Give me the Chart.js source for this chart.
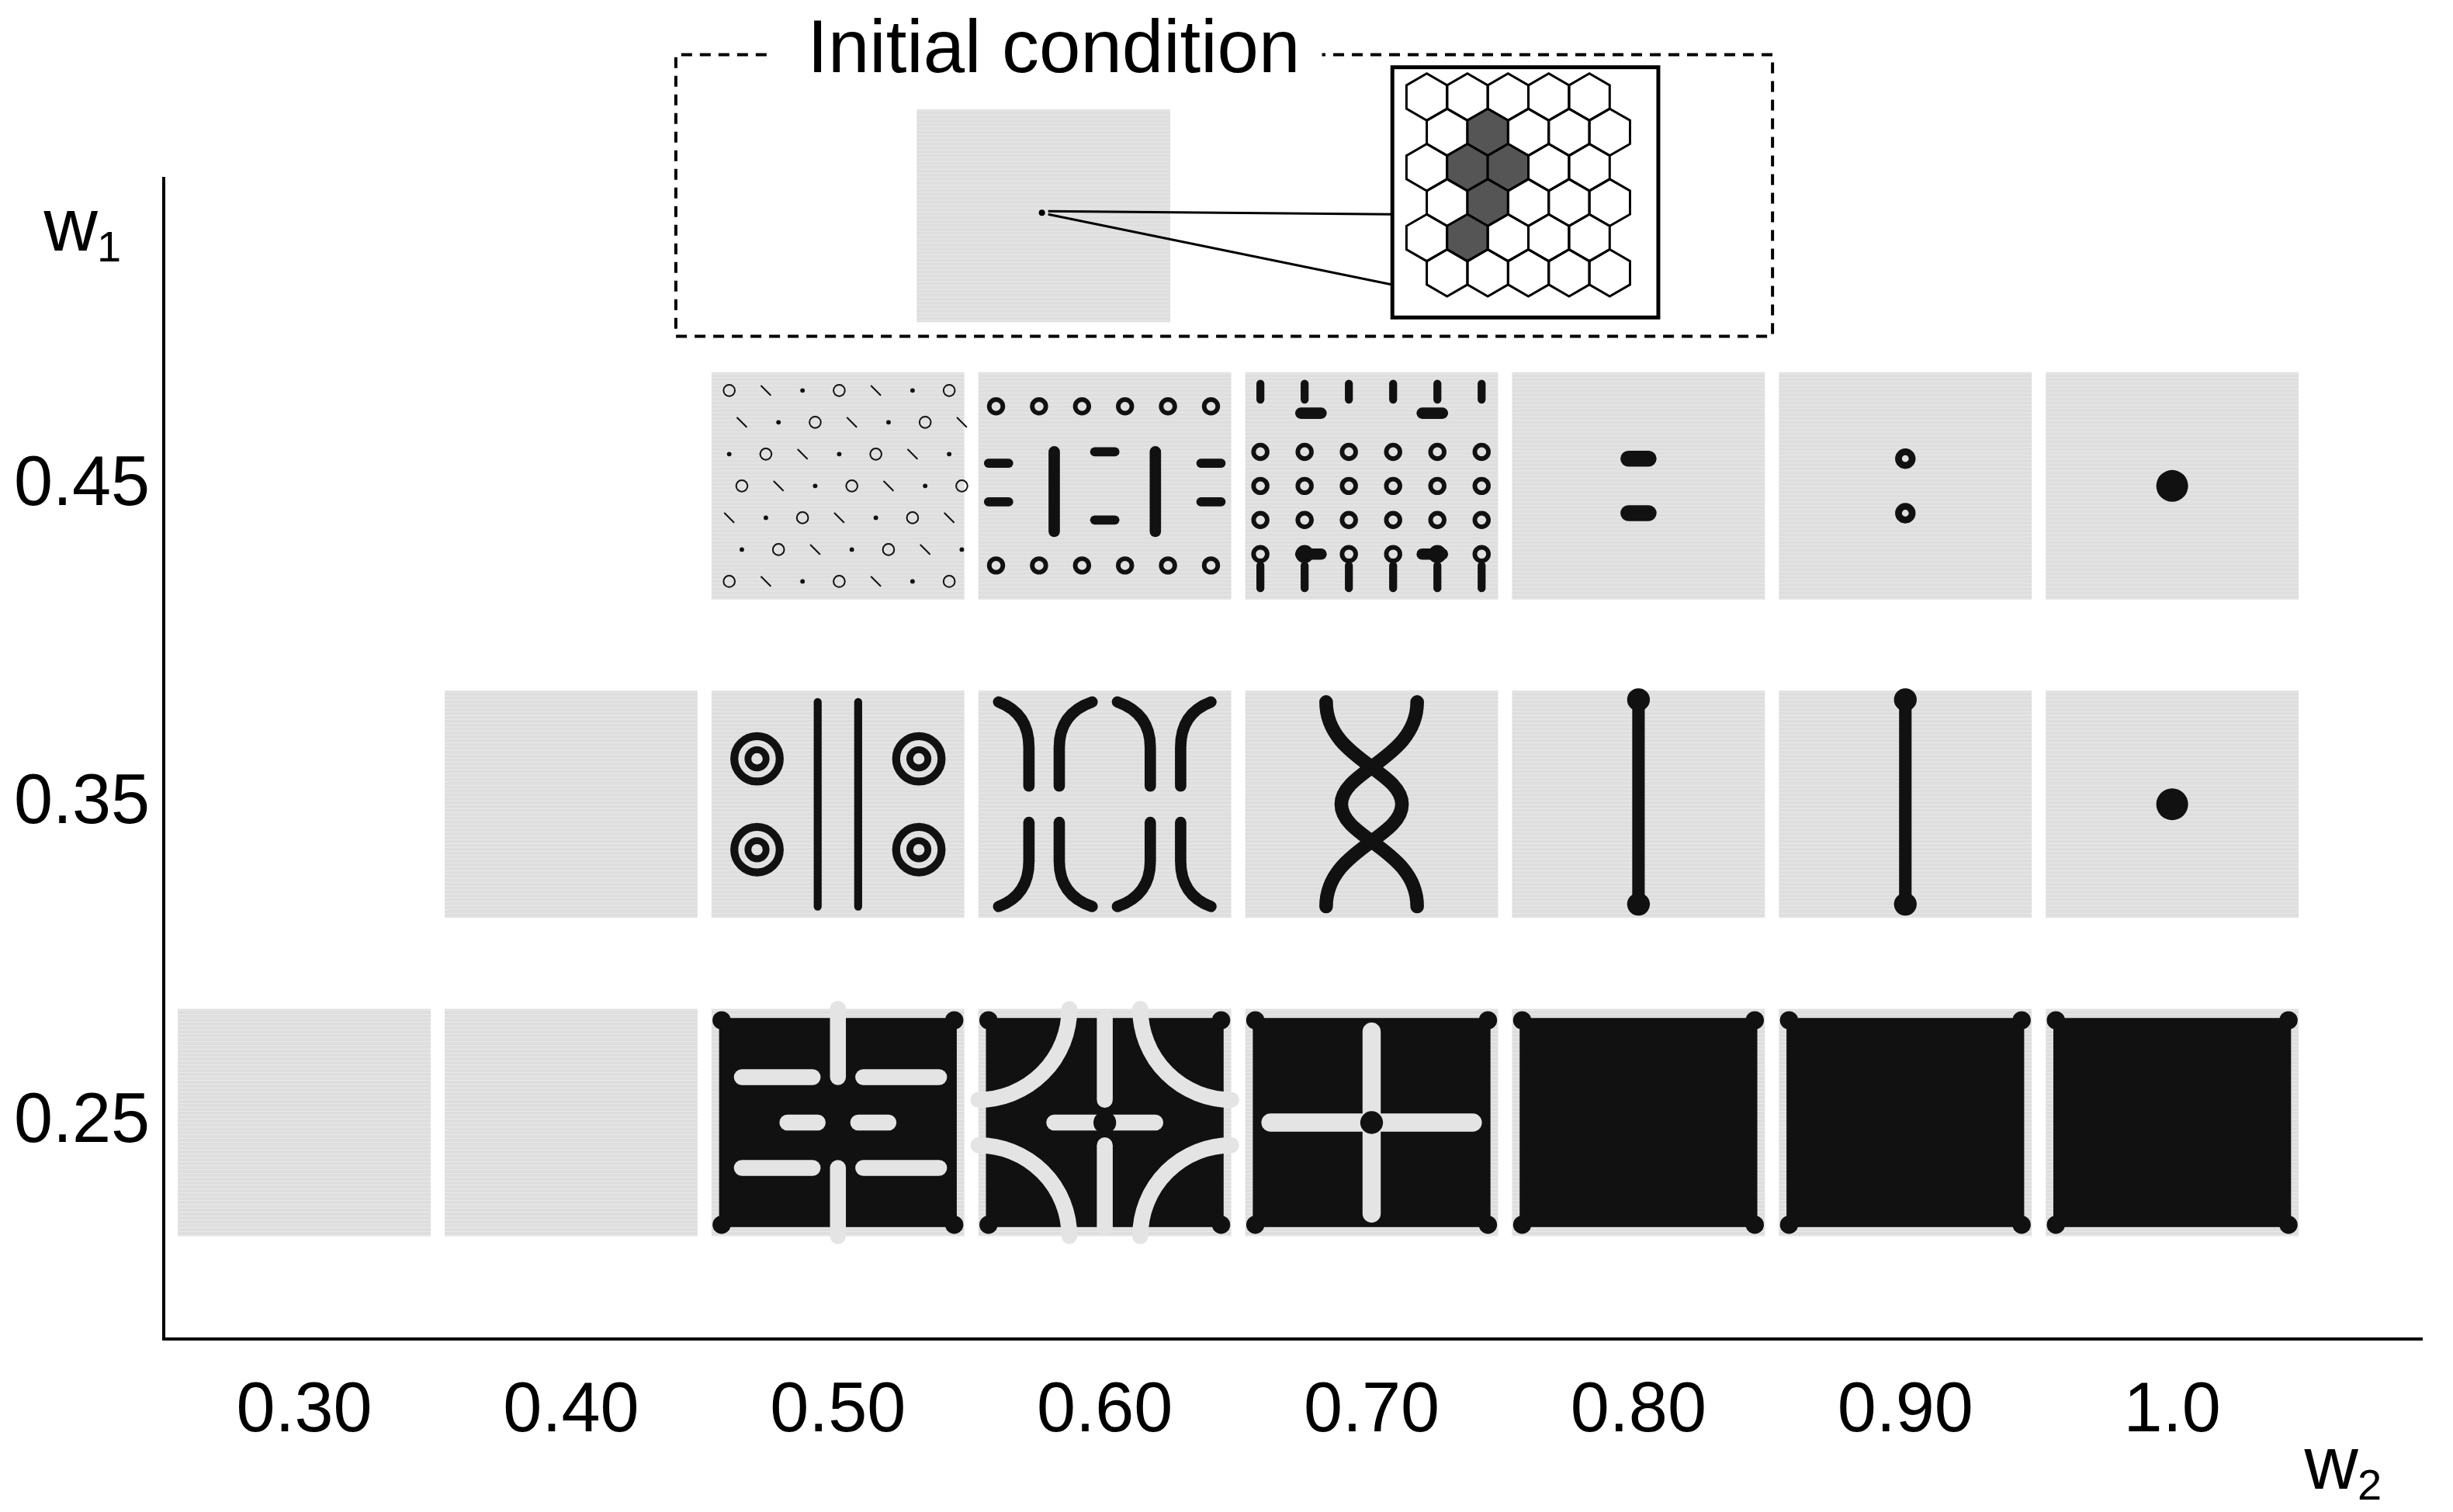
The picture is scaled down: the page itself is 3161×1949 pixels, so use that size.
<!DOCTYPE html>
<html><head><meta charset="utf-8">
<script src="https://cdn.jsdelivr.net/npm/chart.js@4/dist/chart.umd.min.js"></script>
<style>html,body{margin:0;background:#fff}#wrap{width:3161px;height:1949px}</style>
</head><body><div id="wrap"><canvas id="c"></canvas></div>
<script>
const w2Values=[0.30,0.40,0.50,0.60,0.70,0.80,0.90,1.0];
const w2Labels=['0.30','0.40','0.50','0.60','0.70','0.80','0.90','1.0'];
const w1Values=[0.25,0.35,0.45];
const w1Labels=['0.25','0.35','0.45'];
const row025=['uniform','uniform','mazeA','mazeB','cross','filled','filled','filled'];
const row035=[null,'uniform','spirals','brackets','xcurves','bar','bar','dot'];
const row045=[null,null,'spots','ornate','rings','twoPills','twoRings','dot'];
const rows=[row025,row035,row045];

const S=2.016;
const F='"Liberation Sans", Arial, sans-serif';
const TW=0.0965, TH=0.0714;

function pill(ctx,x1,y1,x2,y2,w){ctx.lineWidth=w;ctx.lineCap='round';ctx.beginPath();ctx.moveTo(x1,y1);ctx.lineTo(x2,y2);ctx.stroke();}
function dot(ctx,x,y,r){ctx.beginPath();ctx.arc(x,y,r,0,Math.PI*2);ctx.fill();}
function ring(ctx,x,y,r,w){ctx.lineWidth=w;ctx.beginPath();ctx.arc(x,y,r,0,Math.PI*2);ctx.stroke();}

function drawTile(ctx,type,L,T,W,H){
  ctx.save();
  ctx.fillStyle='#dedede';ctx.fillRect(L,T,W,H);
  ctx.strokeStyle='rgba(255,255,255,0.35)';ctx.lineWidth=1;
  for(let y=T+2;y<T+H;y+=5){ctx.beginPath();ctx.moveTo(L,y);ctx.lineTo(L+W,y);ctx.stroke();}
  const X=u=>L+u*W, Y=v=>T+v*H, m=Math.min(W,H);
  ctx.fillStyle='#111';ctx.strokeStyle='#111';
  if(type==='filled'||type==='cross'||type==='mazeA'||type==='mazeB'){
    ctx.fillRect(X(0.03),Y(0.04),W*0.94,H*0.92);
    [[0.04,0.05],[0.96,0.05],[0.04,0.95],[0.96,0.95]].forEach(p=>dot(ctx,X(p[0]),Y(p[1]),m*0.04));
    ctx.strokeStyle='#e4e4e4';
    if(type==='cross'){
      pill(ctx,X(0.1),Y(0.5),X(0.9),Y(0.5),m*0.08);
      pill(ctx,X(0.5),Y(0.1),X(0.5),Y(0.9),m*0.08);
      ctx.fillStyle='#111';dot(ctx,X(0.5),Y(0.5),m*0.05);
    }
    if(type==='mazeA'){
      pill(ctx,X(0.5),Y(0.0),X(0.5),Y(0.3),m*0.07);pill(ctx,X(0.5),Y(0.7),X(0.5),Y(1.0),m*0.07);
      pill(ctx,X(0.12),Y(0.3),X(0.4),Y(0.3),m*0.07);pill(ctx,X(0.6),Y(0.3),X(0.9),Y(0.3),m*0.07);
      pill(ctx,X(0.12),Y(0.7),X(0.4),Y(0.7),m*0.07);pill(ctx,X(0.6),Y(0.7),X(0.9),Y(0.7),m*0.07);
      pill(ctx,X(0.3),Y(0.5),X(0.42),Y(0.5),m*0.07);pill(ctx,X(0.58),Y(0.5),X(0.7),Y(0.5),m*0.07);
      ctx.fillStyle='#111';dot(ctx,X(0.5),Y(0.5),m*0.05);
    }
    if(type==='mazeB'){
      pill(ctx,X(0.5),Y(0.04),X(0.5),Y(0.4),m*0.07);pill(ctx,X(0.5),Y(0.6),X(0.5),Y(0.96),m*0.07);
      pill(ctx,X(0.3),Y(0.5),X(0.7),Y(0.5),m*0.07);
      ctx.lineWidth=m*0.07;
      [[0,0,0,0.5],[1,0,0.5,1],[0,1,1.5,2],[1,1,1,1.5]].forEach(a=>{ctx.beginPath();ctx.arc(X(a[0]),Y(a[1]),m*0.4,a[2]*Math.PI,a[3]*Math.PI);ctx.stroke();});
      ctx.fillStyle='#111';dot(ctx,X(0.5),Y(0.5),m*0.05);
    }
  } else if(type==='bar'){
    pill(ctx,X(0.5),Y(0.04),X(0.5),Y(0.94),m*0.055);
    dot(ctx,X(0.5),Y(0.04),m*0.05);dot(ctx,X(0.5),Y(0.94),m*0.05);
  } else if(type==='dot'){
    dot(ctx,X(0.5),Y(0.5),m*0.07);
  } else if(type==='twoPills'){
    pill(ctx,X(0.46),Y(0.38),X(0.54),Y(0.38),m*0.07);pill(ctx,X(0.46),Y(0.62),X(0.54),Y(0.62),m*0.07);
  } else if(type==='twoRings'){
    ring(ctx,X(0.5),Y(0.38),m*0.03,m*0.03);ring(ctx,X(0.5),Y(0.62),m*0.03,m*0.03);
  } else if(type==='xcurves'){
    ctx.lineWidth=m*0.06;ctx.lineCap='round';
    [[0.32,0.62],[0.68,0.38]].forEach(p=>{ctx.beginPath();ctx.moveTo(X(p[0]),Y(0.05));ctx.bezierCurveTo(X(p[0]),Y(0.3),X(p[1]),Y(0.35),X(p[1]),Y(0.5));ctx.bezierCurveTo(X(p[1]),Y(0.65),X(p[0]),Y(0.7),X(p[0]),Y(0.95));ctx.stroke();});
  } else if(type==='brackets'){
    ctx.lineWidth=m*0.05;ctx.lineCap='round';
    [[0.08,0.2,1],[0.45,0.32,-1],[0.55,0.68,1],[0.92,0.8,-1]].forEach(p=>{
      ctx.beginPath();ctx.moveTo(X(p[0]),Y(0.05));ctx.quadraticCurveTo(X(p[1]),Y(0.1),X(p[1]),Y(0.25));ctx.lineTo(X(p[1]),Y(0.42));ctx.stroke();
      ctx.beginPath();ctx.moveTo(X(p[1]),Y(0.58));ctx.lineTo(X(p[1]),Y(0.75));ctx.quadraticCurveTo(X(p[1]),Y(0.9),X(p[0]),Y(0.95));ctx.stroke();});
  } else if(type==='spirals'){
    [[0.18,0.3],[0.18,0.7],[0.82,0.3],[0.82,0.7]].forEach(p=>{ring(ctx,X(p[0]),Y(p[1]),m*0.1,m*0.035);ring(ctx,X(p[0]),Y(p[1]),m*0.04,m*0.03);});
    pill(ctx,X(0.42),Y(0.05),X(0.42),Y(0.95),m*0.035);pill(ctx,X(0.58),Y(0.05),X(0.58),Y(0.95),m*0.035);
  } else if(type==='rings'){
    for(let i=0;i<6;i++)for(let j=1;j<5;j++){ring(ctx,X(0.06+i*0.175),Y(0.2+j*0.15),m*0.03,m*0.02);}
    pill(ctx,X(0.22),Y(0.18),X(0.3),Y(0.18),m*0.05);pill(ctx,X(0.7),Y(0.18),X(0.78),Y(0.18),m*0.05);
    pill(ctx,X(0.22),Y(0.8),X(0.3),Y(0.8),m*0.05);pill(ctx,X(0.7),Y(0.8),X(0.78),Y(0.8),m*0.05);
    for(let i=0;i<6;i++){pill(ctx,X(0.06+i*0.175),Y(0.85),X(0.06+i*0.175),Y(0.95),m*0.035);pill(ctx,X(0.06+i*0.175),Y(0.05),X(0.06+i*0.175),Y(0.12),m*0.035);}
  } else if(type==='ornate'){
    pill(ctx,X(0.3),Y(0.35),X(0.3),Y(0.7),m*0.05);pill(ctx,X(0.7),Y(0.35),X(0.7),Y(0.7),m*0.05);
    for(let i=0;i<6;i++){ring(ctx,X(0.07+i*0.17),Y(0.15),m*0.03,m*0.02);ring(ctx,X(0.07+i*0.17),Y(0.85),m*0.03,m*0.02);}
    [[0.08,0.4],[0.08,0.57],[0.92,0.4],[0.92,0.57],[0.5,0.35],[0.5,0.65]].forEach(p=>pill(ctx,X(p[0]-0.04),Y(p[1]),X(p[0]+0.04),Y(p[1]),m*0.04));
  } else if(type==='spots'){
    ctx.lineWidth=2;
    for(let i=0;i<7;i++)for(let j=0;j<7;j++){
      const x=X(0.07+i*0.145+(j%2)*0.05),y=Y(0.08+j*0.14);
      if((i+j)%3===0){ctx.beginPath();ctx.arc(x,y,m*0.025,0,Math.PI*2);ctx.stroke();}
      else if((i+j)%3===1){pill(ctx,x-m*0.02,y-m*0.02,x+m*0.02,y+m*0.02,2);}
      else dot(ctx,x,y,m*0.01);
    }
  }
  ctx.restore();
}

const deco={id:'deco',afterDatasetsDraw(chart){
  const ctx=chart.ctx,xs=chart.scales.x,ys=chart.scales.y;
  rows.forEach((row,ri)=>row.forEach((t,ci)=>{
    if(!t)return;
    const w2=w2Values[ci],w1=w1Values[ri];
    const L=xs.getPixelForValue(w2-TW/2),R=xs.getPixelForValue(w2+TW/2);
    const T=ys.getPixelForValue(w1+TH/2),B=ys.getPixelForValue(w1-TH/2);
    drawTile(ctx,t,L+3,T,R-L-6,B-T);
  }));
  ctx.save();
  ctx.fillStyle='#000';ctx.textBaseline='alphabetic';
  ctx.font='96px '+F;ctx.fillText('w',28*S,160*S);
  ctx.font='56px '+F;ctx.fillText('1',62*S,167*S);
  ctx.font='96px '+F;ctx.fillText('w',1473*S,952*S);
  ctx.font='56px '+F;ctx.fillText('2',1507*S,959*S);
  ctx.setLineDash([14,10]);ctx.lineWidth=4;ctx.strokeStyle='#000';
  ctx.beginPath();ctx.moveTo(490*S,35*S);ctx.lineTo(432*S,35*S);ctx.lineTo(432*S,215*S);ctx.lineTo(1133*S,215*S);ctx.lineTo(1133*S,35*S);ctx.lineTo(845*S,35*S);ctx.stroke();
  ctx.setLineDash([]);
  ctx.font='96px '+F;ctx.fillText('Initial condition',516*S,46*S);
  drawTile(ctx,'uniform',586*S,70*S,162*S,136*S);
  ctx.fillStyle='#000';dot(ctx,666*S,136*S,4);
  ctx.lineWidth=3;ctx.beginPath();ctx.moveTo(670*S,135*S);ctx.lineTo(890*S,137*S);ctx.moveTo(670*S,137*S);ctx.lineTo(890*S,182*S);ctx.stroke();
  ctx.fillStyle='#fff';ctx.fillRect(890*S,43*S,170*S,160*S);ctx.lineWidth=5;ctx.strokeRect(890*S,43*S,170*S,160*S);
  const hr=15*S, hx=Math.sqrt(3)*hr;
  ctx.lineWidth=3;
  for(let r=0;r<6;r++)for(let c=0;c<5;c++){
    const cx=912*S+c*hx+(r%2?hx/2:0), cy=62*S+r*hr*1.5;
    if(cx+hx/2>1058*S)continue;
    const inner=(r===1&&c===1)||(r===2&&(c===1||c===2))||(r===3&&c===1)||(r===4&&c===1);
    ctx.beginPath();
    for(let k=0;k<6;k++){const a=Math.PI/6+k*Math.PI/3;const px=cx+hr*Math.cos(a),py=cy+hr*Math.sin(a);k?ctx.lineTo(px,py):ctx.moveTo(px,py);}
    ctx.closePath();
    if(inner){ctx.fillStyle='#555';ctx.fill();}
    ctx.strokeStyle='#000';ctx.stroke();
  }
  ctx.restore();
}};

new Chart(document.getElementById('c'),{
  type:'scatter',
  data:{datasets:[{data:[],pointRadius:0}]},
  options:{responsive:true,maintainAspectRatio:false,animation:false,
    layout:{padding:{left:0,right:40,top:230,bottom:35}},
    plugins:{legend:{display:false},tooltip:{enabled:false}},
    scales:{
      x:{type:'linear',min:0.2474,max:1.0936,
        afterBuildTicks:a=>{a.ticks=w2Values.map(v=>({value:v}));},
        ticks:{callback:(v,i)=>w2Labels[i],font:{size:90,family:F},color:'#000',padding:40},
        grid:{display:false,drawTicks:false},border:{color:'#000',width:4}},
      y:{type:'linear',min:0.182,max:0.5466,
        afterBuildTicks:a=>{a.ticks=w1Values.map(v=>({value:v}));},
        ticks:{callback:(v,i)=>w1Labels[i],font:{size:90,family:F},color:'#000',padding:18},
        grid:{display:false,drawTicks:false},border:{color:'#000',width:4}}
    }},
  plugins:[deco]
});
</script></body></html>
